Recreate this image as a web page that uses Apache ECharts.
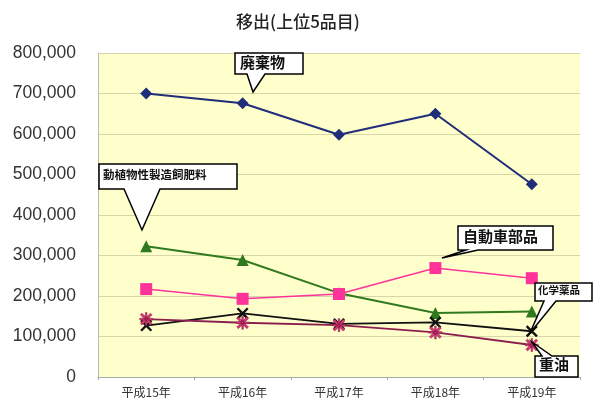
<!DOCTYPE html>
<html><head><meta charset="utf-8">
<script src="https://cdn.jsdelivr.net/npm/echarts@6/dist/echarts.min.js"></script>
<style>html,body{margin:0;padding:0;background:#fff}#c{width:596px;height:409px}</style>
</head><body><div id="c"></div>
<script>
const categories = ['平成15年','平成16年','平成17年','平成18年','平成19年'];
const haikibutsu = [700000, 676000, 598000, 650000, 476000];
const doshokubutsu = [323000, 289000, 207000, 158000, 162000];
const jidoshabuhin = [217000, 193000, 205000, 269000, 244000];
const kagakuyakuhin = [127000, 157000, 131000, 135000, 113000];
const juyu = [143000, 134000, 128000, 110000, 79000];
const yTicks = {min: 0, max: 800000, interval: 100000};

const XPATH = 'path://M0,1.4L1.4,0L10,8.6L8.6,10Z M8.6,0L10,1.4L1.4,10L0,8.6Z';
const STAR = 'path://M0,1.4L1.4,0L10,8.6L8.6,10Z M8.6,0L10,1.4L1.4,10L0,8.6Z M4.3,-0.5L5.7,-0.5L5.7,10.5L4.3,10.5Z M-0.5,4.3L10.5,4.3L10.5,5.7L-0.5,5.7Z';
const JP = '"Noto Sans CJK JP", "Liberation Sans", sans-serif';

const chart = echarts.init(document.getElementById('c'), null, {renderer: 'canvas'});

function callout(pts, tx, ty, text, fs) {
  return [
    {type: 'polygon', shape: {points: pts}, style: {fill: '#fff', stroke: '#000', lineWidth: 1.5}, z: 100},
    {type: 'text', x: tx, y: ty, style: {text: text, font: 'bold ' + fs + 'px ' + JP, fill: '#111'}, z: 101}
  ];
}

const option = {
  backgroundColor: '#fff',
  animation: false,
  title: {text: '移出(上位5品目)', left: 'center', top: 8,
    textStyle: {fontFamily: JP, fontSize: 17, fontWeight: 500, color: '#222'}},
  grid: {left: 98, right: 16, top: 53, bottom: 32, show: true, backgroundColor: '#FFFFCC', borderWidth: 0},
  xAxis: {type: 'category', data: categories, boundaryGap: true,
    axisLine: {lineStyle: {color: '#AAAAAA'}},
    axisTick: {show: true, length: 3, lineStyle: {color: '#AAAAAA'}},
    axisLabel: {fontFamily: JP, fontSize: 12, color: '#333', margin: 9}},
  yAxis: {type: 'value', min: yTicks.min, max: yTicks.max, interval: yTicks.interval,
    axisLine: {show: true, lineStyle: {color: '#BBBBAA'}},
    axisTick: {show: false},
    splitLine: {lineStyle: {color: '#D6D6A8', width: 1}},
    axisLabel: {fontFamily: '"Liberation Sans", Arial, sans-serif', fontSize: 17.5, color: '#333', margin: 22,
      formatter: v => v.toLocaleString('en-US')}},
  series: [
    {name: '廃棄物', type: 'line', data: haikibutsu, symbol: 'diamond', symbolSize: 12,
      lineStyle: {color: '#1F2D7A', width: 2}, itemStyle: {color: '#1F2D7A'}},
    {name: '動植物性製造飼肥料', type: 'line', data: doshokubutsu, symbol: 'triangle', symbolSize: 12,
      lineStyle: {color: '#2F7A1E', width: 2}, itemStyle: {color: '#2F7A1E'}},
    {name: '自動車部品', type: 'line', data: jidoshabuhin, symbol: 'rect', symbolSize: 12,
      lineStyle: {color: '#FF3399', width: 1.5}, itemStyle: {color: '#FF3399'}},
    {name: '化学薬品', type: 'line', data: kagakuyakuhin, symbol: XPATH, symbolSize: 12,
      lineStyle: {color: '#111111', width: 1.8}, itemStyle: {color: '#111111'}},
    {name: '重油', type: 'line', data: juyu, symbol: STAR, symbolSize: 13,
      lineStyle: {color: '#8B1E4E', width: 1.8}, itemStyle: {color: '#E0357A', borderColor: '#7A1E3E', borderWidth: 0.5}}
  ],
  graphic: [].concat(
    callout([[235,53],[303,53],[303,74],[265,74],[253,92],[247,74],[235,74]], 240, 55, '廃棄物', 15),
    callout([[99,164],[237,164],[237,189],[160,189],[142,230],[124,189],[99,189]], 103, 169, '動植物性製造飼肥料', 11.5),
    callout([[458,226],[553,226],[553,250],[478,250],[442,258],[466,250],[458,250]], 463, 229, '自動車部品', 15),
    callout([[535,283],[592,283],[592,301],[556,301],[530,333],[544,301],[535,301]], 538, 285, '化学薬品', 10.5),
    callout([[535,356],[542,356],[532,342],[552,356],[578,356],[578,377],[535,377]], 539, 357, '重油', 15)
  )
};
chart.setOption(option);
</script>
</body></html>
